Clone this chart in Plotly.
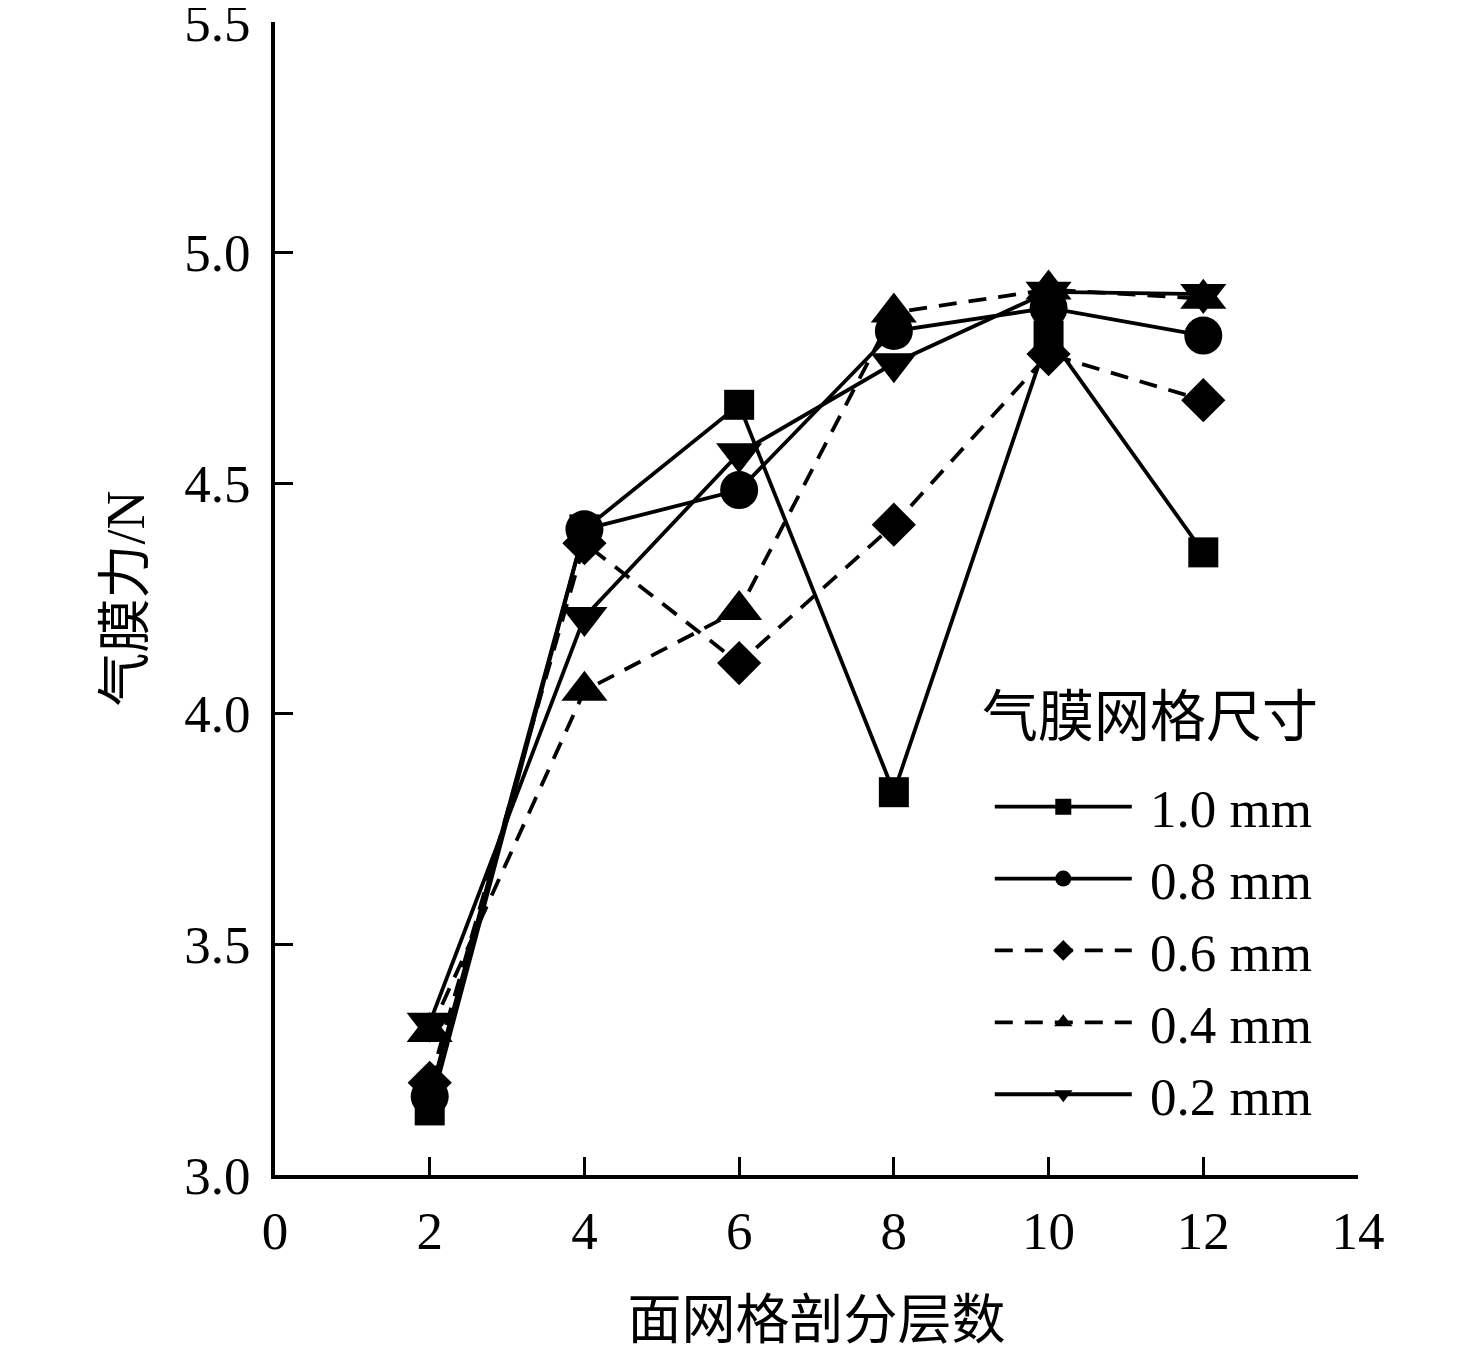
import plotly.graph_objects as go

layers = [2, 4, 6, 8, 10, 12]
sizes = ["1.0 mm", "0.8 mm", "0.6 mm", "0.4 mm", "0.2 mm"]
force_10 = [3.14, 4.40, 4.67, 3.83, 4.82, 4.35]
force_08 = [3.17, 4.40, 4.485, 4.83, 4.88, 4.82]
force_06 = [3.20, 4.37, 4.11, 4.41, 4.78, 4.68]
force_04 = [3.31, 4.05, 4.225, 4.87, 4.92, 4.90]
force_02 = [3.33, 4.21, 4.565, 4.76, 4.915, 4.91]

xticks = [0, 2, 4, 6, 8, 10, 12, 14]
yticks = [3.0, 3.5, 4.0, 4.5, 5.0, 5.5]

FONT = "Liberation Serif, Noto Sans CJK SC, serif"

series = [
    (force_10, "square", 30, "solid"),
    (force_08, "circle", 38, "solid"),
    (force_06, "diamond", 34, "18px,12px"),
    (force_04, "triangle-up", 40, "18px,12px"),
    (force_02, "triangle-down", 40, "solid"),
]

fig = go.Figure()
for i, (vals, sym, ms, dash) in enumerate(series):
    fig.add_trace(go.Scatter(
        x=layers, y=vals, name="\u00a0" + sizes[i],
        mode="lines+markers",
        legendgroup=sizes[i],
        line=dict(color="black", width=3.8, dash=dash),
        marker=dict(symbol=sym, size=ms, color="black"),
    ))

# the page is drawn with a small body margin, margins below allow for it
fig.update_layout(
    width=1476, height=1358,
    margin=dict(l=267, r=126, t=14, b=191),
    plot_bgcolor="white", paper_bgcolor="white",
    font=dict(family=FONT, size=53, color="black"),
    showlegend=True,
    legend=dict(
        x=0.66, y=0.355, xanchor="left", yanchor="top",
        bgcolor="rgba(0,0,0,0)",
        itemwidth=137,
        tracegroupgap=0,
        font=dict(size=53),
    ),
)
fig.add_annotation(
    text="气膜网格尺寸", xref="paper", yref="paper",
    x=0.651, y=0.397, xanchor="left", yanchor="middle",
    showarrow=False, font=dict(size=56),
)
fig.update_xaxes(
    range=[0, 14], tickvals=xticks, ticktext=[str(v) for v in xticks],
    showline=True, linecolor="black", linewidth=4,
    ticks="inside", ticklen=18, tickwidth=3, tickcolor="black",
    ticklabelstandoff=6, ticklabeloverflow="allow", automargin=False,
    showgrid=False, zeroline=False,
    title=dict(text="面网格剖分层数", font=dict(size=54), standoff=44),
)
fig.update_yaxes(
    range=[3.0, 5.5], tickvals=yticks, ticktext=[f"{v:.1f}" for v in yticks],
    showline=True, linecolor="black", linewidth=4,
    ticks="inside", ticklen=18, tickwidth=3, tickcolor="black",
    ticklabelstandoff=10, ticklabeloverflow="allow", automargin=False,
    showgrid=False, zeroline=False,
    title=dict(text="气膜力/N", font=dict(size=54), standoff=23),
)

fig.write_html("out.html")
